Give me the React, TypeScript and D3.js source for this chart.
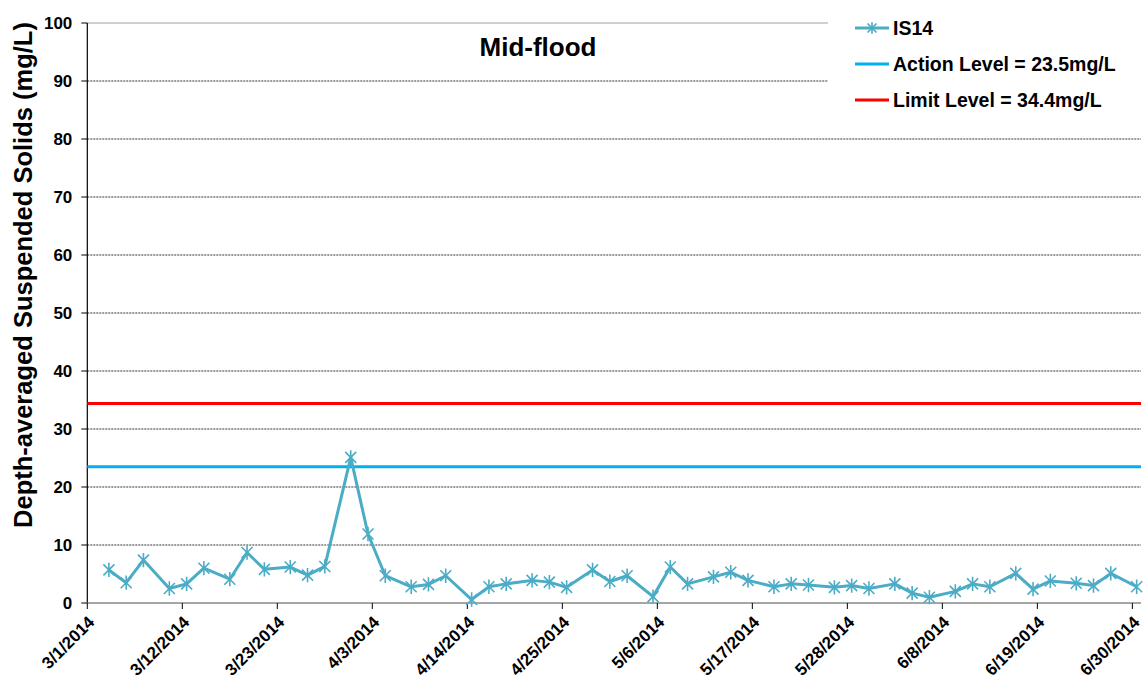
import React from "react";
import * as d3 from "d3";

const dates: string[] = [
  "2014-03-03","2014-03-05","2014-03-07","2014-03-10","2014-03-12","2014-03-14","2014-03-17","2014-03-19","2014-03-21","2014-03-24","2014-03-26","2014-03-28","2014-03-31",
  "2014-04-02","2014-04-04","2014-04-07","2014-04-09","2014-04-11","2014-04-14","2014-04-16","2014-04-18","2014-04-21","2014-04-23","2014-04-25","2014-04-28","2014-04-30",
  "2014-05-02","2014-05-05","2014-05-07","2014-05-09","2014-05-12","2014-05-14","2014-05-16","2014-05-19","2014-05-21","2014-05-23","2014-05-26","2014-05-28","2014-05-30",
  "2014-06-02","2014-06-04","2014-06-06","2014-06-09","2014-06-11","2014-06-13","2014-06-16","2014-06-18","2014-06-20","2014-06-23","2014-06-25","2014-06-27","2014-06-30"
];
const is14: number[] = [
  5.7,3.5,7.4,2.5,3.3,6.0,4.1,8.7,5.8,6.2,4.8,6.3,25.1,
  11.9,4.7,2.8,3.2,4.7,0.6,2.8,3.3,3.9,3.6,2.7,5.7,3.7,
  4.7,1.1,6.2,3.3,4.5,5.3,3.9,2.8,3.3,3.1,2.7,3.0,2.5,
  3.3,1.7,1.0,2.0,3.3,2.8,5.1,2.4,3.8,3.4,3.0,5.1,2.8
];
const actionLevel = 23.5;
const limitLevel = 34.4;
const yTicks: number[] = [0,10,20,30,40,50,60,70,80,90,100];
const xTickLabels: string[] = ["3/1/2014","3/12/2014","3/23/2014","4/3/2014","4/14/2014","4/25/2014","5/6/2014","5/17/2014","5/28/2014","6/8/2014","6/19/2014","6/30/2014"];
const legendLabels: string[] = ["IS14","Action Level = 23.5mg/L","Limit Level = 34.4mg/L"];
const title = "Mid-flood";
const yLabel = "Depth-averaged Suspended Solids (mg/L)";

const parse = (s: string) => {
  const [y, m, d] = s.split("-").map(Number);
  return new Date(y, m - 1, d);
};
const parseMDY = (s: string) => {
  const [m, d, y] = s.split("/").map(Number);
  return new Date(y, m - 1, d);
};

const W = 1148, H = 687;
const left = 87.3, right = 1141, top = 23, bottom = 603;
const FONT = "'Liberation Sans', Arial, sans-serif";
const SERIES = "#4BACC6";
const HALF_DAY = 12 * 3600 * 1000;

export default function App() {
  const x = d3.scaleTime().domain([new Date(2014, 2, 1), new Date(2014, 6, 1)]).range([left, right]);
  const y = d3.scaleLinear().domain([0, 100]).range([bottom, top]);
  const pts = dates.map((d, i) => [x(new Date(parse(d).getTime() + HALF_DAY)), y(is14[i])] as [number, number]);
  const line = d3.line<[number, number]>().x(p => p[0]).y(p => p[1]);
  const legendRight = 828;
  const star = (cx: number, cy: number, r: number, key: any) => (
    <path key={key} d={`M${cx - r},${cy - r}L${cx + r},${cy + r}M${cx - r},${cy + r}L${cx + r},${cy - r}M${cx},${cy - r * 1.3}L${cx},${cy + r * 1.3}`} stroke={SERIES} strokeWidth={1.6} fill="none" />
  );
  return (
    <svg width={W} height={H} style={{ position: "absolute", left: 0, top: 0, background: "#fff" }} fontFamily={FONT}>
      <rect x={0} y={0} width={W} height={H} fill="#fff" />
      {yTicks.filter(t => t > 0).map(t => (
        <line key={t} x1={left} x2={t >= 90 ? legendRight : right} y1={y(t)} y2={y(t)} stroke={t === 100 ? "#888" : "#000"} strokeWidth={0.8} strokeDasharray={t === 100 ? undefined : "2,1"} />
      ))}
      <line x1={left} x2={left} y1={top} y2={bottom} stroke="#000" strokeWidth={1.2} />
      {yTicks.map(t => (
        <g key={t}>
          <line x1={left - 6} x2={left} y1={y(t)} y2={y(t)} stroke="#000" strokeWidth={1} />
          <text x={left - 15} y={y(t)} dy="0.35em" textAnchor="end" fontSize={17} fontWeight="bold">{t}</text>
        </g>
      ))}
      <line x1={left} x2={right} y1={bottom} y2={bottom} stroke="#888" strokeWidth={1.5} />
      {xTickLabels.map(l => {
        const xx = x(parseMDY(l));
        return (
          <g key={l}>
            <line x1={xx} x2={xx} y1={bottom} y2={bottom + 6} stroke="#000" strokeWidth={1} />
            <text transform={`translate(${xx + 4},${bottom + 16}) rotate(-45)`} textAnchor="end" fontSize={17} fontWeight="bold" dy="0.35em">{l}</text>
          </g>
        );
      })}
      <line x1={left} x2={right} y1={y(actionLevel)} y2={y(actionLevel)} stroke="#00B0F0" strokeWidth={3} />
      <line x1={left} x2={right} y1={y(limitLevel)} y2={y(limitLevel)} stroke="#FF0000" strokeWidth={3} />
      <path d={line(pts) || ""} fill="none" stroke={SERIES} strokeWidth={3} strokeLinejoin="round" />
      {pts.map((p, i) => star(p[0], p[1], 5.5, i))}
      <text x={538} y={47} dy="0.35em" textAnchor="middle" fontSize={26} fontWeight="bold">{title}</text>
      <text transform={`translate(23,275) rotate(-90)`} textAnchor="middle" dy="0.35em" fontSize={25.5} fontWeight="bold">{yLabel}</text>
      {legendLabels.map((l, i) => {
        const ly = 28 + i * 36;
        const col = i === 0 ? SERIES : i === 1 ? "#00B0F0" : "#FF0000";
        return (
          <g key={l}>
            <line x1={855} x2={889} y1={ly} y2={ly} stroke={col} strokeWidth={3} />
            {i === 0 && star(872, ly, 4.5, "lg")}
            <text x={893} y={ly} dy="0.35em" fontSize={19.5} fontWeight="bold">{l}</text>
          </g>
        );
      })}
    </svg>
  );
}
